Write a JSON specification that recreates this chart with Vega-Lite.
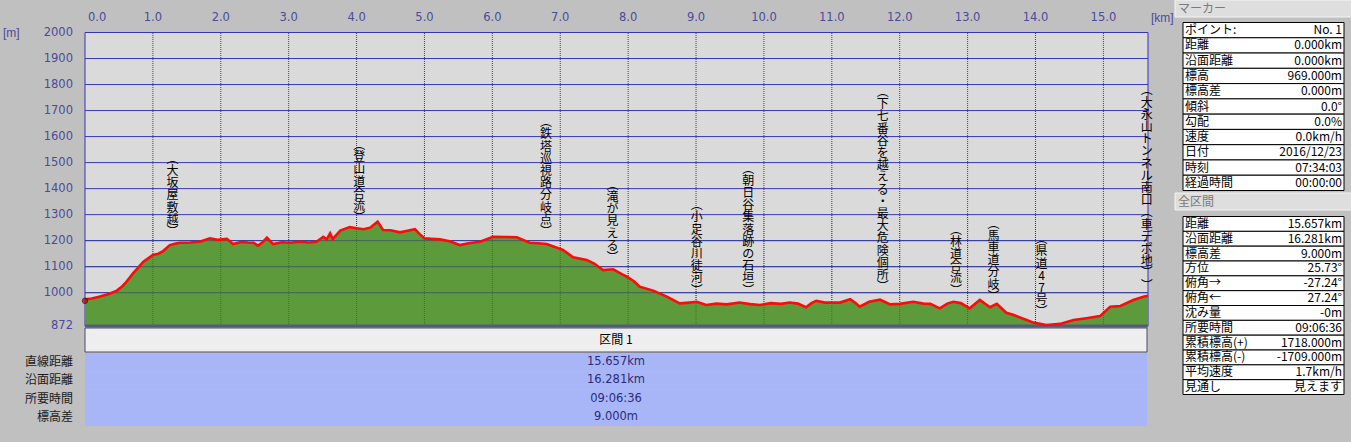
{
  "$schema": "https://vega.github.io/schema/vega-lite/v6.json",
  "width": 1351,
  "height": 442,
  "autosize": {"type": "none"},
  "padding": 0,
  "background": "#c0c0c0",
  "config": {"view": {"stroke": null}, "text": {"font": "Noto Sans CJK JP"}},
  "resolve": {"scale": {"x": "independent", "y": "independent"}, "axis": {"x": "independent", "y": "independent"}},
  "layer": [
    {
      "layer": [
        {
          "data": {"values": [{"area": "plot"}]},
          "mark": {"type": "rect", "fill": "#dadada", "stroke": "#3434b4", "strokeWidth": 1},
          "encoding": {
            "x": {"datum": 0, "type": "quantitative", "scale": {"domain": [0, 15.657], "range": [85, 1148], "nice": false, "zero": false}, "axis": null},
            "x2": {"datum": 15.657},
            "y": {"datum": 872, "type": "quantitative", "scale": {"domain": [872, 2000], "range": [326, 32.5], "nice": false, "zero": false}, "axis": null},
            "y2": {"datum": 2000}
          }
        },
        {
          "data": {"values": [{"km":1},{"km":2},{"km":3},{"km":4},{"km":5},{"km":6},{"km":7},{"km":8},{"km":9},{"km":10},{"km":11},{"km":12},{"km":13},{"km":14},{"km":15}]},
          "mark": {"type": "text", "font": "DejaVu Sans", "fontSize": 11.5, "color": "#4b4b9b", "baseline": "middle", "align": "center", "dy": -15},
          "encoding": {
            "x": {"field": "km", "type": "quantitative", "scale": {"domain": [0, 15.657], "range": [85, 1148], "nice": false, "zero": false}, "axis": null},
            "y": {"datum": 2000, "type": "quantitative", "scale": {"domain": [872, 2000], "range": [326, 32.5], "nice": false, "zero": false}, "axis": null},
            "text": {"field": "km", "type": "quantitative", "format": ".1f"}
          }
        },
        {
          "data": {"values": [{"km":0}]},
          "mark": {"type": "text", "font": "DejaVu Sans", "fontSize": 11.5, "color": "#4b4b9b", "baseline": "middle", "align": "left", "dx": 3, "dy": -15},
          "encoding": {
            "x": {"field": "km", "type": "quantitative", "scale": {"domain": [0, 15.657], "range": [85, 1148], "nice": false, "zero": false}, "axis": null},
            "y": {"datum": 2000, "type": "quantitative", "scale": {"domain": [872, 2000], "range": [326, 32.5], "nice": false, "zero": false}, "axis": null},
            "text": {"field": "km", "type": "quantitative", "format": ".1f"}
          }
        },
        {
          "data": {"values": [{"elev":872},{"elev":1000},{"elev":1100},{"elev":1200},{"elev":1300},{"elev":1400},{"elev":1500},{"elev":1600},{"elev":1700},{"elev":1800},{"elev":1900},{"elev":2000}]},
          "mark": {"type": "text", "font": "DejaVu Sans", "fontSize": 11.5, "color": "#4b4b9b", "baseline": "middle", "align": "right", "dx": -12},
          "encoding": {
            "x": {"datum": 0, "type": "quantitative", "scale": {"domain": [0, 15.657], "range": [85, 1148], "nice": false, "zero": false}, "axis": null},
            "y": {"field": "elev", "type": "quantitative", "scale": {"domain": [872, 2000], "range": [326, 32.5], "nice": false, "zero": false}, "axis": null},
            "text": {"field": "elev", "type": "quantitative", "format": "d"}
          }
        },
        {
          "data": {"values": [{"unit": "[km]"}]},
          "mark": {"type": "text", "font": "Liberation Sans", "fontSize": 12, "color": "#4b4b9b", "baseline": "middle", "align": "left", "dx": 3, "dy": -15},
          "encoding": {
            "x": {"datum": 15.657, "type": "quantitative", "scale": {"domain": [0, 15.657], "range": [85, 1148], "nice": false, "zero": false}, "axis": null},
            "y": {"datum": 2000, "type": "quantitative", "scale": {"domain": [872, 2000], "range": [326, 32.5], "nice": false, "zero": false}, "axis": null},
            "text": {"field": "unit", "type": "nominal"}
          }
        },
        {
          "data": {"values": [{"unit": "[m]"}]},
          "mark": {"type": "text", "font": "Liberation Sans", "fontSize": 12, "color": "#4b4b9b", "baseline": "middle", "align": "left", "dx": -82},
          "encoding": {
            "x": {"datum": 0, "type": "quantitative", "scale": {"domain": [0, 15.657], "range": [85, 1148], "nice": false, "zero": false}, "axis": null},
            "y": {"datum": 2000, "type": "quantitative", "scale": {"domain": [872, 2000], "range": [326, 32.5], "nice": false, "zero": false}, "axis": null},
            "text": {"field": "unit", "type": "nominal"}
          }
        },
        {
          "data": {"values": [{"elev":1000},{"elev":1100},{"elev":1200},{"elev":1300},{"elev":1400},{"elev":1500},{"elev":1600},{"elev":1700},{"elev":1800},{"elev":1900}]},
          "mark": {"type": "rule", "stroke": "#3838b8", "strokeWidth": 1},
          "encoding": {
            "y": {"field": "elev", "type": "quantitative", "scale": {"domain": [872, 2000], "range": [326, 32.5], "nice": false, "zero": false}, "axis": null},
            "x": {"datum": 0, "type": "quantitative", "scale": {"domain": [0, 15.657], "range": [85, 1148], "nice": false, "zero": false}, "axis": null},
            "x2": {"datum": 15.657}
          }
        },
        {
          "data": {"values": [{"km":1},{"km":2},{"km":3},{"km":4},{"km":5},{"km":6},{"km":7},{"km":8},{"km":9},{"km":10},{"km":11},{"km":12},{"km":13},{"km":14},{"km":15}]},
          "mark": {"type": "rule", "stroke": "#3a3aa0", "strokeWidth": 1, "strokeDash": [1, 1]},
          "encoding": {
            "x": {"field": "km", "type": "quantitative", "scale": {"domain": [0, 15.657], "range": [85, 1148], "nice": false, "zero": false}, "axis": null},
            "y": {"datum": 872, "type": "quantitative", "scale": {"domain": [872, 2000], "range": [326, 32.5], "nice": false, "zero": false}, "axis": null},
            "y2": {"datum": 2000}
          }
        },
        {
          "data": {"name": "profile", "values": [
            {"km":0,"elev":975},{"km":0.1,"elev":978},{"km":0.22,"elev":985},{"km":0.35,"elev":995},{"km":0.47,"elev":1008},{"km":0.55,"elev":1025},{"km":0.61,"elev":1042},{"km":0.71,"elev":1075},{"km":0.78,"elev":1095},{"km":0.86,"elev":1119},{"km":0.93,"elev":1132},{"km":1.0,"elev":1145},{"km":1.08,"elev":1150},{"km":1.15,"elev":1160},{"km":1.25,"elev":1183},{"km":1.32,"elev":1188},{"km":1.4,"elev":1192},{"km":1.55,"elev":1193},{"km":1.69,"elev":1196},{"km":1.84,"elev":1209},{"km":1.95,"elev":1203},{"km":2.09,"elev":1207},{"km":2.18,"elev":1187},{"km":2.3,"elev":1195},{"km":2.4,"elev":1193},{"km":2.48,"elev":1192},{"km":2.55,"elev":1181},{"km":2.62,"elev":1195},{"km":2.68,"elev":1212},{"km":2.77,"elev":1187},{"km":2.9,"elev":1194},{"km":3.02,"elev":1192},{"km":3.15,"elev":1196},{"km":3.3,"elev":1193},{"km":3.41,"elev":1196},{"km":3.51,"elev":1215},{"km":3.56,"elev":1205},{"km":3.61,"elev":1228},{"km":3.65,"elev":1207},{"km":3.76,"elev":1239},{"km":3.9,"elev":1252},{"km":4.0,"elev":1248},{"km":4.1,"elev":1244},{"km":4.2,"elev":1250},{"km":4.31,"elev":1273},{"km":4.39,"elev":1241},{"km":4.5,"elev":1240},{"km":4.64,"elev":1232},{"km":4.75,"elev":1238},{"km":4.86,"elev":1244},{"km":4.93,"elev":1225},{"km":5.0,"elev":1209},{"km":5.1,"elev":1207},{"km":5.23,"elev":1205},{"km":5.37,"elev":1198},{"km":5.52,"elev":1183},{"km":5.65,"elev":1190},{"km":5.82,"elev":1196},{"km":6.01,"elev":1215},{"km":6.2,"elev":1214},{"km":6.36,"elev":1213},{"km":6.55,"elev":1192},{"km":6.68,"elev":1190},{"km":6.8,"elev":1187},{"km":6.92,"elev":1176},{"km":7.04,"elev":1164},{"km":7.19,"elev":1136},{"km":7.39,"elev":1126},{"km":7.5,"elev":1112},{"km":7.63,"elev":1087},{"km":7.78,"elev":1090},{"km":7.9,"elev":1072},{"km":7.98,"elev":1062},{"km":8.08,"elev":1045},{"km":8.17,"elev":1023},{"km":8.37,"elev":1008},{"km":8.57,"elev":985},{"km":8.76,"elev":959},{"km":8.9,"elev":962},{"km":9.01,"elev":965},{"km":9.15,"elev":953},{"km":9.3,"elev":958},{"km":9.45,"elev":955},{"km":9.64,"elev":962},{"km":9.8,"elev":956},{"km":9.94,"elev":953},{"km":10.1,"elev":960},{"km":10.25,"elev":957},{"km":10.38,"elev":962},{"km":10.5,"elev":958},{"km":10.62,"elev":944},{"km":10.7,"elev":960},{"km":10.77,"elev":969},{"km":10.9,"elev":962},{"km":11.12,"elev":962},{"km":11.27,"elev":975},{"km":11.35,"elev":960},{"km":11.41,"elev":946},{"km":11.55,"elev":965},{"km":11.71,"elev":973},{"km":11.86,"elev":955},{"km":12.0,"elev":957},{"km":12.2,"elev":965},{"km":12.35,"elev":958},{"km":12.45,"elev":957},{"km":12.59,"elev":940},{"km":12.7,"elev":958},{"km":12.79,"elev":965},{"km":12.9,"elev":960},{"km":13.03,"elev":940},{"km":13.18,"elev":972},{"km":13.33,"elev":944},{"km":13.43,"elev":957},{"km":13.57,"elev":923},{"km":13.67,"elev":915},{"km":13.77,"elev":905},{"km":13.87,"elev":895},{"km":13.97,"elev":885},{"km":14.16,"elev":876},{"km":14.36,"elev":880},{"km":14.56,"elev":895},{"km":14.75,"elev":902},{"km":14.95,"elev":910},{"km":15.1,"elev":946},{"km":15.25,"elev":949},{"km":15.44,"elev":972},{"km":15.6,"elev":985},{"km":15.657,"elev":988}
          ]},
          "mark": {"type": "area", "fill": "#5d9a3b", "opacity": 1},
          "encoding": {
            "x": {"field": "km", "type": "quantitative", "scale": {"domain": [0, 15.657], "range": [85, 1148], "nice": false, "zero": false}, "axis": null},
            "y": {"field": "elev", "type": "quantitative", "scale": {"domain": [872, 2000], "range": [326, 32.5], "nice": false, "zero": false}, "axis": null},
            "y2": {"datum": 872}
          }
        },
        {
          "data": {"values": [{"elev":1000},{"elev":1100},{"elev":1200}]},
          "mark": {"type": "rule", "stroke": "#203070", "strokeWidth": 1, "opacity": 0.5},
          "encoding": {
            "y": {"field": "elev", "type": "quantitative", "scale": {"domain": [872, 2000], "range": [326, 32.5], "nice": false, "zero": false}, "axis": null},
            "x": {"datum": 0, "type": "quantitative", "scale": {"domain": [0, 15.657], "range": [85, 1148], "nice": false, "zero": false}, "axis": null},
            "x2": {"datum": 15.657}
          }
        },
        {
          "data": {"values": [{"km":1},{"km":2},{"km":3},{"km":4},{"km":5},{"km":6},{"km":7},{"km":8},{"km":9},{"km":10},{"km":11},{"km":12},{"km":13},{"km":14},{"km":15}]},
          "mark": {"type": "rule", "stroke": "#203050", "strokeWidth": 1, "strokeDash": [1, 1], "opacity": 0.45},
          "encoding": {
            "x": {"field": "km", "type": "quantitative", "scale": {"domain": [0, 15.657], "range": [85, 1148], "nice": false, "zero": false}, "axis": null},
            "y": {"datum": 872, "type": "quantitative", "scale": {"domain": [872, 2000], "range": [326, 32.5], "nice": false, "zero": false}, "axis": null},
            "y2": {"datum": 1300}
          }
        },
        {
          "data": {"values": [{"base": 872}]},
          "mark": {"type": "rule", "stroke": "#525c7c", "strokeWidth": 3},
          "encoding": {
            "y": {"field": "base", "type": "quantitative", "scale": {"domain": [872, 2000], "range": [326, 32.5], "nice": false, "zero": false}, "axis": null},
            "x": {"datum": 0, "type": "quantitative", "scale": {"domain": [0, 15.657], "range": [85, 1148], "nice": false, "zero": false}, "axis": null},
            "x2": {"datum": 15.657}
          }
        },
        {
          "data": {"name": "profile"},
          "mark": {"type": "line", "stroke": "#ff0a0a", "strokeWidth": 2.6, "interpolate": "linear"},
          "encoding": {
            "x": {"field": "km", "type": "quantitative", "scale": {"domain": [0, 15.657], "range": [85, 1148], "nice": false, "zero": false}, "axis": null},
            "y": {"field": "elev", "type": "quantitative", "scale": {"domain": [872, 2000], "range": [326, 32.5], "nice": false, "zero": false}, "axis": null}
          }
        },
        {
          "data": {"values": [
            {"name": "︵大坂屋敷越︶", "km": 1.29, "elev": 1187},
            {"name": "︵登山道合流︶", "km": 4.04, "elev": 1240},
            {"name": "︵鉄塔巡視路分岐点︶", "km": 6.79, "elev": 1187},
            {"name": "︵滝が見える︶", "km": 7.77, "elev": 1087},
            {"name": "︵小足谷川徒河︶", "km": 9.01, "elev": 962},
            {"name": "︵朝日谷集落跡の石垣︶", "km": 9.77, "elev": 962},
            {"name": "︵下七番谷を越える・最大危険個所︶", "km": 11.75, "elev": 975},
            {"name": "︵林道合流︶", "km": 12.83, "elev": 962},
            {"name": "︵馬車道分岐︶", "km": 13.38, "elev": 938},
            {"name": "︵県道47号︶", "km": 14.09, "elev": 878},
            {"name": "︵大永山トンネル南口︵車デポ地︶︶", "km": 15.64, "elev": 981}
          ]},
          "transform": [{"calculate": "reverse(split(datum.name, ''))", "as": "chars"}],
          "mark": {"type": "text", "font": "Noto Sans CJK JP", "fontSize": 12, "lineHeight": -12.2, "baseline": "bottom", "align": "center", "dy": -5, "color": "#000000"},
          "encoding": {
            "x": {"field": "km", "type": "quantitative", "scale": {"domain": [0, 15.657], "range": [85, 1148], "nice": false, "zero": false}, "axis": null},
            "y": {"field": "elev", "type": "quantitative", "scale": {"domain": [872, 2000], "range": [326, 32.5], "nice": false, "zero": false}, "axis": null},
            "text": {"field": "chars", "type": "nominal"}
          }
        },
        {
          "data": {"values": [{"km": 0, "elev": 969}]},
          "mark": {"type": "point", "shape": "circle", "filled": true, "size": 30, "fill": "#c00000", "stroke": "#400000", "strokeWidth": 1},
          "encoding": {
            "x": {"field": "km", "type": "quantitative", "scale": {"domain": [0, 15.657], "range": [85, 1148], "nice": false, "zero": false}, "axis": null},
            "y": {"field": "elev", "type": "quantitative", "scale": {"domain": [872, 2000], "range": [326, 32.5], "nice": false, "zero": false}, "axis": null}
          }
        }
      ]
    },
    {
      "data": {"values": [{"sec": "区間 1"}]},
      "layer": [
        {
          "mark": {"type": "rect", "fill": "#eeeeee", "stroke": "#4a4a6a", "strokeWidth": 1},
          "encoding": {
            "x": {"datum": 0, "type": "quantitative", "scale": {"domain": [0, 1], "range": [85, 1147], "nice": false, "zero": false}, "axis": null},
            "x2": {"datum": 1},
            "y": {"field": "sec", "type": "nominal", "scale": {"type": "band", "range": [328, 352], "paddingInner": 0, "paddingOuter": 0}, "axis": null}
          }
        },
        {
          "mark": {"type": "text", "fontSize": 12, "color": "#000000", "align": "center"},
          "encoding": {
            "x": {"datum": 0.5, "type": "quantitative", "scale": {"domain": [0, 1], "range": [85, 1147], "nice": false, "zero": false}, "axis": null},
            "y": {"field": "sec", "type": "nominal", "scale": {"type": "band", "range": [328, 352], "paddingInner": 0, "paddingOuter": 0}, "axis": null},
            "text": {"field": "sec", "type": "nominal"}
          }
        }
      ]
    },
    {
      "data": {"values": [
        {"item": "直線距離", "val": "15.657km"},
        {"item": "沿面距離", "val": "16.281km"},
        {"item": "所要時間", "val": "09:06:36"},
        {"item": "標高差", "val": "9.000m"}
      ]},
      "layer": [
        {
          "mark": {"type": "rect", "fill": "#a8b6f8", "stroke": null},
          "encoding": {
            "x": {"datum": 0, "type": "quantitative", "scale": {"domain": [0, 1], "range": [85, 1147], "nice": false, "zero": false}, "axis": null},
            "x2": {"datum": 1},
            "y": {"field": "item", "type": "nominal", "sort": null, "scale": {"type": "band", "range": [353, 426], "paddingInner": 0, "paddingOuter": 0}, "axis": null}
          }
        },
        {
          "mark": {"type": "text", "fontSize": 12, "color": "#1a1a1a", "align": "right", "dx": -12},
          "encoding": {
            "x": {"datum": 0, "type": "quantitative", "scale": {"domain": [0, 1], "range": [85, 1147], "nice": false, "zero": false}, "axis": null},
            "y": {"field": "item", "type": "nominal", "sort": null, "scale": {"type": "band", "range": [353, 426], "paddingInner": 0, "paddingOuter": 0}, "axis": null},
            "text": {"field": "item", "type": "nominal"}
          }
        },
        {
          "mark": {"type": "text", "fontSize": 11.5, "font": "DejaVu Sans", "color": "#2b2b7a", "align": "center"},
          "encoding": {
            "x": {"datum": 0.5, "type": "quantitative", "scale": {"domain": [0, 1], "range": [85, 1147], "nice": false, "zero": false}, "axis": null},
            "y": {"field": "item", "type": "nominal", "sort": null, "scale": {"type": "band", "range": [353, 426], "paddingInner": 0, "paddingOuter": 0}, "axis": null},
            "text": {"field": "val", "type": "nominal"}
          }
        }
      ]
    },
    {
      "data": {"values": [{"h": "マーカー"}]},
      "layer": [
        {
          "mark": {"type": "rect", "fill": "#dedede", "stroke": "#f4f4f4", "strokeWidth": 1},
          "encoding": {
            "x": {"datum": 0, "type": "quantitative", "scale": {"domain": [0, 1], "range": [1175, 1358], "nice": false, "zero": false}, "axis": null},
            "x2": {"datum": 1},
            "y": {"field": "h", "type": "nominal", "scale": {"type": "band", "range": [0, 17], "paddingInner": 0, "paddingOuter": 0}, "axis": null}
          }
        },
        {
          "mark": {"type": "text", "fontSize": 12, "color": "#7a7a7a", "align": "left", "dx": 3},
          "encoding": {
            "x": {"datum": 0, "type": "quantitative", "scale": {"domain": [0, 1], "range": [1175, 1358], "nice": false, "zero": false}, "axis": null},
            "y": {"field": "h", "type": "nominal", "scale": {"type": "band", "range": [0, 17], "paddingInner": 0, "paddingOuter": 0}, "axis": null},
            "text": {"field": "h", "type": "nominal"}
          }
        }
      ]
    },
    {
      "data": {"values": [
        {"k": "ポイント:", "v": "No. 1"},
        {"k": "距離", "v": "0.000km"},
        {"k": "沿面距離", "v": "0.000km"},
        {"k": "標高", "v": "969.000m"},
        {"k": "標高差", "v": "0.000m"},
        {"k": "傾斜", "v": "0.0°"},
        {"k": "勾配", "v": "0.0%"},
        {"k": "速度", "v": "0.0km/h"},
        {"k": "日付", "v": "2016/12/23"},
        {"k": "時刻", "v": "07:34:03"},
        {"k": "経過時間", "v": "00:00:00"}
      ]},
      "layer": [
        {
          "mark": {"type": "rect", "fill": "#ffffff", "stroke": "#000000", "strokeWidth": 1},
          "encoding": {
            "x": {"datum": 0, "type": "quantitative", "scale": {"domain": [0, 1], "range": [1183, 1344], "nice": false, "zero": false}, "axis": null},
            "x2": {"datum": 1},
            "y": {"field": "k", "type": "nominal", "sort": null, "scale": {"type": "band", "range": [22.5, 190.5], "paddingInner": 0, "paddingOuter": 0}, "axis": null}
          }
        },
        {
          "mark": {"type": "text", "fontSize": 12, "color": "#000000", "align": "left", "dx": 2},
          "encoding": {
            "x": {"datum": 0, "type": "quantitative", "scale": {"domain": [0, 1], "range": [1183, 1344], "nice": false, "zero": false}, "axis": null},
            "y": {"field": "k", "type": "nominal", "sort": null, "scale": {"type": "band", "range": [22.5, 190.5], "paddingInner": 0, "paddingOuter": 0}, "axis": null},
            "text": {"field": "k", "type": "nominal"}
          }
        },
        {
          "mark": {"type": "text", "fontSize": 12, "color": "#000000", "align": "right", "dx": -2},
          "encoding": {
            "x": {"datum": 1, "type": "quantitative", "scale": {"domain": [0, 1], "range": [1183, 1344], "nice": false, "zero": false}, "axis": null},
            "y": {"field": "k", "type": "nominal", "sort": null, "scale": {"type": "band", "range": [22.5, 190.5], "paddingInner": 0, "paddingOuter": 0}, "axis": null},
            "text": {"field": "v", "type": "nominal"}
          }
        }
      ]
    },
    {
      "data": {"values": [{"h": "全区間"}]},
      "layer": [
        {
          "mark": {"type": "rect", "fill": "#dedede", "stroke": "#f4f4f4", "strokeWidth": 1},
          "encoding": {
            "x": {"datum": 0, "type": "quantitative", "scale": {"domain": [0, 1], "range": [1175, 1358], "nice": false, "zero": false}, "axis": null},
            "x2": {"datum": 1},
            "y": {"field": "h", "type": "nominal", "scale": {"type": "band", "range": [193, 210], "paddingInner": 0, "paddingOuter": 0}, "axis": null}
          }
        },
        {
          "mark": {"type": "text", "fontSize": 12, "color": "#7a7a7a", "align": "left", "dx": 3},
          "encoding": {
            "x": {"datum": 0, "type": "quantitative", "scale": {"domain": [0, 1], "range": [1175, 1358], "nice": false, "zero": false}, "axis": null},
            "y": {"field": "h", "type": "nominal", "scale": {"type": "band", "range": [193, 210], "paddingInner": 0, "paddingOuter": 0}, "axis": null},
            "text": {"field": "h", "type": "nominal"}
          }
        }
      ]
    },
    {
      "data": {"values": [
        {"k": "距離", "v": "15.657km"},
        {"k": "沿面距離", "v": "16.281km"},
        {"k": "標高差", "v": "9.000m"},
        {"k": "方位", "v": "25.73°"},
        {"k": "俯角→", "v": "-27.24°"},
        {"k": "俯角←", "v": "27.24°"},
        {"k": "沈み量", "v": "-0m"},
        {"k": "所要時間", "v": "09:06:36"},
        {"k": "累積標高(+)", "v": "1718.000m"},
        {"k": "累積標高(-)", "v": "-1709.000m"},
        {"k": "平均速度", "v": "1.7km/h"},
        {"k": "見通し", "v": "見えます"}
      ]},
      "layer": [
        {
          "mark": {"type": "rect", "fill": "#ffffff", "stroke": "#000000", "strokeWidth": 1},
          "encoding": {
            "x": {"datum": 0, "type": "quantitative", "scale": {"domain": [0, 1], "range": [1183, 1344], "nice": false, "zero": false}, "axis": null},
            "x2": {"datum": 1},
            "y": {"field": "k", "type": "nominal", "sort": null, "scale": {"type": "band", "range": [216.5, 394.5], "paddingInner": 0, "paddingOuter": 0}, "axis": null}
          }
        },
        {
          "mark": {"type": "text", "fontSize": 12, "color": "#000000", "align": "left", "dx": 2},
          "encoding": {
            "x": {"datum": 0, "type": "quantitative", "scale": {"domain": [0, 1], "range": [1183, 1344], "nice": false, "zero": false}, "axis": null},
            "y": {"field": "k", "type": "nominal", "sort": null, "scale": {"type": "band", "range": [216.5, 394.5], "paddingInner": 0, "paddingOuter": 0}, "axis": null},
            "text": {"field": "k", "type": "nominal"}
          }
        },
        {
          "mark": {"type": "text", "fontSize": 12, "color": "#000000", "align": "right", "dx": -2},
          "encoding": {
            "x": {"datum": 1, "type": "quantitative", "scale": {"domain": [0, 1], "range": [1183, 1344], "nice": false, "zero": false}, "axis": null},
            "y": {"field": "k", "type": "nominal", "sort": null, "scale": {"type": "band", "range": [216.5, 394.5], "paddingInner": 0, "paddingOuter": 0}, "axis": null},
            "text": {"field": "v", "type": "nominal"}
          }
        }
      ]
    }
  ]
}
